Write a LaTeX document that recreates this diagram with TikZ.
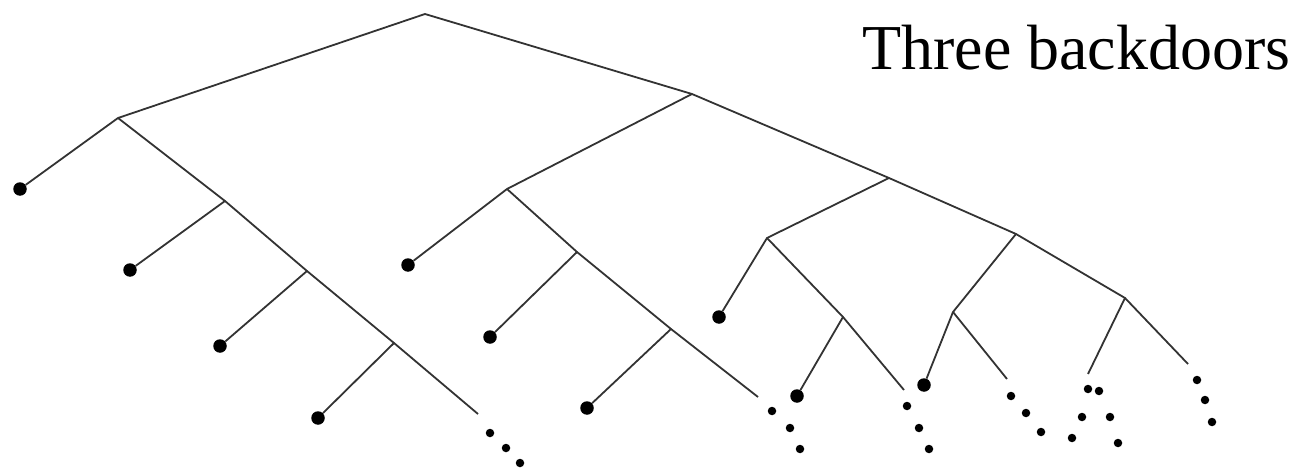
\documentclass[tikz,border=0pt]{standalone}
\usepackage{fontspec}
\setmainfont{Liberation Serif}
\begin{document}
\begin{tikzpicture}[x=1pt,y=-1pt,
  br/.style={line width=1.8pt,draw=black!80},
  leaf/.style={circle,fill=black,inner sep=0pt,minimum size=13.5pt},
  dotn/.style={circle,fill=black,inner sep=0pt,minimum size=8.5pt}]
\useasboundingbox (0,0) rectangle (1296,468);
% internal points
\coordinate (R) at (425,14);
\coordinate (A) at (118,118);
\coordinate (B1) at (225,201);
\coordinate (B2) at (307,271);
\coordinate (B3) at (394,343);
\coordinate (Bend) at (478,414);
\coordinate (C) at (692,94);
\coordinate (D) at (889,178);
\coordinate (E) at (1016,234);
\coordinate (F) at (1125,298);
\coordinate (Fend) at (1188,364);
\coordinate (G) at (507,189);
\coordinate (H1) at (577,252);
\coordinate (H2) at (671,329);
\coordinate (Hend) at (758,397);
\coordinate (I) at (767,238);
\coordinate (J) at (843,317);
\coordinate (Jend) at (904,390);
\coordinate (K) at (953,312);
\coordinate (Kend) at (1007,379);
\coordinate (Lend) at (1088,374);
% leaves
\node[leaf] (a0) at (20,189) {};
\node[leaf] (b1) at (130,270) {};
\node[leaf] (b2) at (220,346) {};
\node[leaf] (b3) at (318,418) {};
\node[leaf] (g0) at (408,265) {};
\node[leaf] (h1) at (490,337) {};
\node[leaf] (h2) at (587,408) {};
\node[leaf] (i0) at (719,317) {};
\node[leaf] (j0) at (797,396) {};
\node[leaf] (k0) at (924,385) {};
% ellipsis dots
\node[dotn] (bd1) at (490,433) {};
\node[dotn] (bd2) at (506,448) {};
\node[dotn] (bd3) at (520,463) {};
\node[dotn] (hd1) at (772,411) {};
\node[dotn] (hd2) at (790,428) {};
\node[dotn] (hd3) at (800,449) {};
\node[dotn] (jd1) at (907,406) {};
\node[dotn] (jd2) at (919,428) {};
\node[dotn] (jd3) at (929,449) {};
\node[dotn] (kd1) at (1011,396) {};
\node[dotn] (kd2) at (1026,413) {};
\node[dotn] (kd3) at (1041,432) {};
\node[dotn] (ld1) at (1088,389) {};
\node[dotn] (ld2) at (1099,391) {};
\node[dotn] (ld3) at (1082,417) {};
\node[dotn] (ld4) at (1110,417) {};
\node[dotn] (ld5) at (1072,438) {};
\node[dotn] (ld6) at (1118,443) {};
\node[dotn] (fd1) at (1197,380) {};
\node[dotn] (fd2) at (1205,400) {};
\node[dotn] (fd3) at (1212,422) {};
% branches
\draw[br] (R) -- (A) -- (a0);
\draw[br] (A) -- (B1) -- (B2) -- (B3) -- (Bend);
\draw[br] (B1) -- (b1);
\draw[br] (B2) -- (b2);
\draw[br] (B3) -- (b3);
\draw[br] (R) -- (C) -- (D) -- (E) -- (F) -- (Fend);
\draw[br] (C) -- (G) -- (g0);
\draw[br] (G) -- (H1) -- (H2) -- (Hend);
\draw[br] (H1) -- (h1);
\draw[br] (H2) -- (h2);
\draw[br] (D) -- (I) -- (i0);
\draw[br] (I) -- (J) -- (Jend);
\draw[br] (J) -- (j0);
\draw[br] (E) -- (K) -- (k0);
\draw[br] (K) -- (Kend);
\draw[br] (F) -- (Lend);
% title
\node[anchor=base west,inner sep=0pt,font=\fontsize{64}{72}\selectfont] (title) at (862,70) {Three backdoors};
\end{tikzpicture}
\end{document}
